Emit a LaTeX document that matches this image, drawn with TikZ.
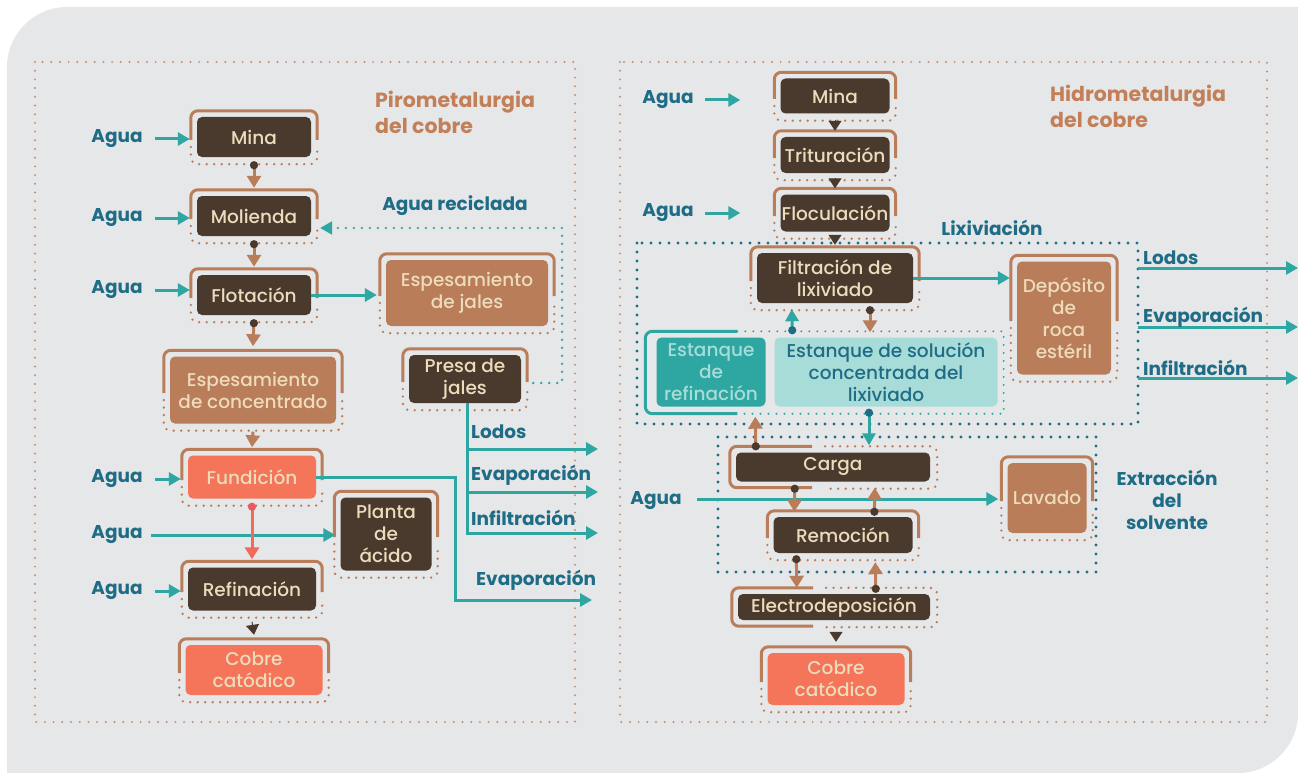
\documentclass[tikz,border=0pt]{standalone}
\usepackage{fontspec}
\setmainfont{Poppins}
\newfontfamily\medfont{Poppins Medium}
\usetikzlibrary{arrows.meta,calc}
\definecolor{bgray}{HTML}{E6E7E9}
\definecolor{boxdark}{HTML}{4A3A2E}
\definecolor{cream}{HTML}{EDDCBC}
\definecolor{copper}{HTML}{B97D5A}
\definecolor{salmon}{HTML}{F47559}
\definecolor{tealc}{HTML}{2EA6A2}
\definecolor{lteal}{HTML}{A8DCD8}
\definecolor{deepteal}{HTML}{1E6C86}
\definecolor{titlecu}{HTML}{C27F58}
\definecolor{reddot}{HTML}{EC5A5E}
\definecolor{redline}{HTML}{F26A5A}
\tikzset{
  proc/.style={rounded corners=5pt, fill=boxdark, text=cream, align=center, inner sep=0pt,
    font=\medfont\fontsize{18.5}{22}\selectfont},
  sz/.style 2 args={minimum width=#1pt, minimum height=#2pt},
  cu/.style={proc, fill=copper},
  sal/.style={proc, fill=salmon},
  frsolid/.style={draw=copper, line width=3pt, rounded corners=7pt},
  frdots/.style={draw=copper, line width=2.6pt, line cap=round, dash pattern=on 0pt off 7.5pt, rounded corners=7pt},
  lbl/.style={text=deepteal, font=\bfseries\fontsize{18.5}{22}\selectfont, inner sep=0pt, yshift=-2pt},
  ttl/.style={text=titlecu, font=\bfseries\fontsize{20.5}{26}\selectfont, align=left, inner sep=0pt},
  tarrow/.style={draw=tealc, line width=3pt, -{Triangle[length=12pt,width=13pt]}},
  tline/.style={draw=tealc, line width=3pt},
  tdots/.style={draw=tealc, line width=2.6pt, line cap=round, dash pattern=on 0pt off 8pt},
  tdotarrow/.style={draw=tealc, line width=3pt, {Circle[length=8pt,color=deepteal]}-{Triangle[length=12pt,width=13pt]}},
  cuarrow/.style={draw=copper, line width=3pt, {Circle[length=8pt,color=boxdark]}-{Triangle[length=12pt,width=14pt]}},
  cuhead/.style={draw=copper, line width=3pt, -{Triangle[length=12pt,width=14pt]}},
  darkhead/.style={draw=boxdark, line width=1pt, -{Triangle[length=10pt,width=13pt]}},
  redarrow/.style={draw=redline, line width=3pt, {Circle[length=8pt,color=reddot]}-{Triangle[length=12pt,width=14pt]}},
  cuframe/.style={draw=copper!85!white, line width=2.2pt, line cap=round, dash pattern=on 0pt off 8.7pt},
  tframe/.style={draw=deepteal, line width=3.2pt, line cap=round, dash pattern=on 0pt off 9pt},
}
\newcommand\capframe[1]{%
  \draw[frsolid] ($(#1.west)+(-6,3)$) |- ($(#1.north)+(0,-6)$) -| ($(#1.east)+(6,3)$);
  \draw[frdots] ($(#1.west)+(-6,10)$) |- ($(#1.south)+(0,7)$) -| ($(#1.east)+(6,10)$);}
\newcommand\sideframe[1]{%
  \draw[frsolid] ($(#1.north)+(-21,-6)$) -| ($(#1.west)+(-6,0)$) |- ($(#1.south)+(-21,6)$);
  \draw[frdots] ($(#1.north)+(-8,-6)$) -| ($(#1.east)+(7,0)$) |- ($(#1.south)+(-8,7)$);}
\begin{document}
\begin{tikzpicture}[x=1pt,y=-1pt]
  \useasboundingbox (0,0) rectangle (1298,773);
  \fill[bgray] (7,773) -- (7,67) .. controls (7,34) and (34,7) .. (67,7) -- (1298,7) -- (1298,713)
    .. controls (1298,746) and (1271,773) .. (1238,773) -- cycle;
  \draw[cuframe] (35,62) rectangle (575,722);
  \draw[cuframe] (620,62) rectangle (1267,722);
  % pirometalurgia
  \node[ttl, anchor=west] (tpiro) at (375,112) {Pirometalurgia\\del cobre};
  \node[proc, sz={114}{40}] (mina) at (254,137) {Mina};
  \node[proc, sz={114}{40}] (mol) at (254,216) {Molienda};
  \node[proc, sz={114}{40}] (flot) at (254,295) {Flotación};
  \node[cu, sz={166}{67}] (espc) at (253,390) {Espesamiento\\de concentrado};
  \node[sal, sz={128}{43}] (fund) at (252,477) {Fundición};
  \node[proc, sz={91}{73}] (planta) at (386,534) {Planta\\de\\ácido};
  \node[proc, sz={128}{43}] (ref) at (252,589) {Refinación};
  \node[sal, sz={137}{50}] (cob) at (254,670) {Cobre\\catódico};
  \node[cu, sz={162}{66}] (espj) at (467,293) {Espesamiento\\de jales};
  \node[proc, sz={112}{48}] (presa) at (465,379) {Presa de\\jales};
  \foreach \n in {mina,mol,flot,espc,fund,planta,ref,cob,espj,presa} {\capframe{\n}}
  \node[lbl] (ag1) at (117,137) {Agua};
  \node[lbl] (ag2) at (117,216) {Agua};
  \node[lbl] (ag3) at (117,288) {Agua};
  \node[lbl] (ag4) at (117,477) {Agua};
  \node[lbl] (ag5) at (117,533) {Agua};
  \node[lbl] (ag6) at (117,589) {Agua};
  \draw[tarrow] ($(ag1.east)+(12,0)$) -- ($(mina.west)+(-7,2)$);
  \draw[tarrow] ($(ag2.east)+(12,0)$) -- ($(mol.west)+(-7,2)$);
  \draw[tarrow] ($(ag3.east)+(12,0)$) -- ($(flot.west)+(-7,-5)$);
  \draw[tarrow] ($(ag4.east)+(12,0)$) -- ($(fund.west)+(-7,2)$);
  \draw[tarrow] ($(ag5.east)+(8,0)$) -- ($(planta.west)+(-5,1)$);
  \draw[tarrow] ($(ag6.east)+(12,0)$) -- ($(ref.west)+(-7,2)$);
  \draw[cuarrow] ($(mina.south)+(0,4)$) -- ($(mol.north)+(0,-8)$);
  \draw[cuarrow] ($(mol.south)+(0,4)$) -- ($(flot.north)+(0,-8)$);
  \draw[cuarrow] ($(flot.south)+(0,4)$) -- ($(espc.north)+(0,-10)$);
  \draw[cuhead] ($(espc.south)+(0,8)$) -- ($(fund.north)+(0,-8)$);
  \draw[redarrow] ($(fund.south)+(0,4)$) -- ($(ref.north)+(0,-8)$);
  \draw[darkhead] ($(ref.south)+(0,11)$) -- ($(cob.north)+(0,-10)$);
  \draw[tarrow] (flot.east) -- ($(espj.west|-flot.east)+(-9,0)$);
  \node[lbl] (recic) at (455,204) {Agua reciclada};
  \draw[tdots, -{Triangle[length=12pt,width=13pt]}] ($(presa.east)+(12,4)$) -| (562,228) -- ($(mol.east)+(9,12)$);
  \coordinate (olod) at (598,449);
  \coordinate (oeva) at (598,492);
  \coordinate (oinf) at (598,533);
  \draw[tarrow] ($(presa.south)+(2,0)$) |- (oinf);
  \draw[tarrow] ($(presa.south)+(2,0)$) |- (olod);
  \draw[tarrow] ($(presa.south)+(2,0)$) |- (oeva);
  \node[lbl, anchor=west] (llod) at (471,430) {Lodos};
  \node[lbl, anchor=west] (leva) at (471,473) {Evaporación};
  \node[lbl, anchor=west] (linf) at (471,516) {Infiltración};
  \coordinate (oeva2) at (592,600);
  \draw[tarrow] (fund.east) -- (455,477) |- (oeva2);
  \node[lbl, anchor=west] (leva2) at (476,578) {Evaporación};
  % hidrometalurgia
  \node[ttl, anchor=west] (thidro) at (1050,106) {Hidrometalurgia\\del cobre};
  \node[proc, sz={109}{35}] (minab) at (835,96) {Mina};
  \node[proc, sz={109}{36}] (trit) at (835,155) {Trituración};
  \node[proc, sz={109}{37}] (floc) at (835,213) {Floculación};
  \node[proc, sz={156}{50}] (filt) at (835,278) {Filtración de\\lixiviado};
  \node[cu, sz={94}{113}] (dep) at (1064,318) {Depósito\\de\\roca\\estéril};
  \node[proc, fill=tealc, text=lteal, sz={109}{69}] (estr) at (711,372) {Estanque\\de\\refinación};
  \node[proc, fill=lteal, text=deepteal, sz={223}{69}] (ests) at (886,372) {Estanque de solución\\concentrada del\\lixiviado};
  \node[proc, sz={194}{29}] (carga) at (833,467) {Carga};
  \node[proc, sz={139}{36}] (remo) at (843,535) {Remoción};
  \node[cu, sz={79}{70}] (lav) at (1047,498) {Lavado};
  \node[proc, sz={192}{26}] (elec) at (834,607) {Electrodeposición};
  \node[sal, sz={137}{52}] (cobb) at (836,679) {Cobre\\catódico};
  \foreach \n in {minab,trit,floc,filt,dep,remo,lav,cobb} {\capframe{\n}}
  \sideframe{carga}
  \sideframe{elec}
  \draw[tline, rounded corners=7pt] ($(estr.north west)+(81,-6)$) -| ($(estr.west)+(-11,0)$) |- ($(estr.south west)+(81,7)$);
  \draw[tdots, line width=2.2pt] ($(estr.north west)+(81,-6)$) -| ($(ests.east)+(6,0)$) |- ($(estr.south west)+(81,7)$);
  \draw[tframe] (637,243) rectangle (1138,424);
  \draw[tframe] (718,437) rectangle (1096,572);
  \node[lbl] (llix) at (992,226) {Lixiviación};
  \node[lbl, align=center] (lext) at (1167,498) {Extracción\\del\\solvente};
  \node[lbl] (agb1) at (668,98) {Agua};
  \node[lbl] (agb2) at (668,211) {Agua};
  \node[lbl] (agb3) at (656,499) {Agua};
  \draw[tarrow] (705,100) -- ($(minab.west)+(-40,4)$);
  \draw[tarrow] (705,213) -- ($(floc.west)+(-40,0)$);
  \draw[tarrow] (697,499) -- ($(lav.west)+(-9,1)$);
  \draw[darkhead] ($(minab.south)+(0,6)$) -- ($(trit.north)+(0,-6)$);
  \draw[darkhead] ($(trit.south)+(0,5)$) -- ($(floc.north)+(0,-6)$);
  \draw[darkhead] ($(floc.south)+(0,4)$) -- ($(filt.north)+(0,-8)$);
  \draw[tarrow] (filt.east) -- ($(dep.west|-filt.east)+(-7,0)$);
  \draw[tdotarrow] ($(ests.north west)+(18,-3)$) -- ($(filt.south west)+(35,6)$);
  \draw[cuarrow] ($(filt.south)+(35,3)$) -- ($(ests.north)+(-16,-5)$);
  \draw[cuarrow] ($(carga.north west)+(20,-2)$) -- ($(estr.south west)+(99,10)$);
  \draw[tdotarrow] ($(ests.south)+(-17,2)$) -- ($(carga.north)+(36,-7)$);
  \draw[cuarrow] ($(carga.south west)+(59,3)$) -- ($(remo.north west)+(21,-5)$);
  \draw[cuarrow] ($(remo.north west)+(101,-1)$) -- ($(carga.south west)+(139,6)$);
  \draw[cuarrow] ($(remo.south west)+(23,2)$) -- ($(elec.north west)+(59,-6)$);
  \draw[cuarrow] ($(elec.north west)+(138,-1)$) -- ($(remo.south west)+(102,9)$);
  \draw[darkhead] ($(elec.south)+(2,12)$) -- ($(cobb.north)+(0,-11)$);
  \coordinate (rlod) at (1298,268);
  \coordinate (reva) at (1298,327);
  \coordinate (rinf) at (1298,378);
  \draw[tarrow] (1138,268) -- (rlod);
  \draw[tarrow] (1138,327) -- (reva);
  \draw[tarrow] (1138,378) -- (rinf);
  \node[lbl, anchor=west] (rl1) at (1143,256) {Lodos};
  \node[lbl, anchor=west] (rl2) at (1143,315) {Evaporación};
  \node[lbl, anchor=west] (rl3) at (1143,366) {Infiltración};
\end{tikzpicture}
\end{document}
